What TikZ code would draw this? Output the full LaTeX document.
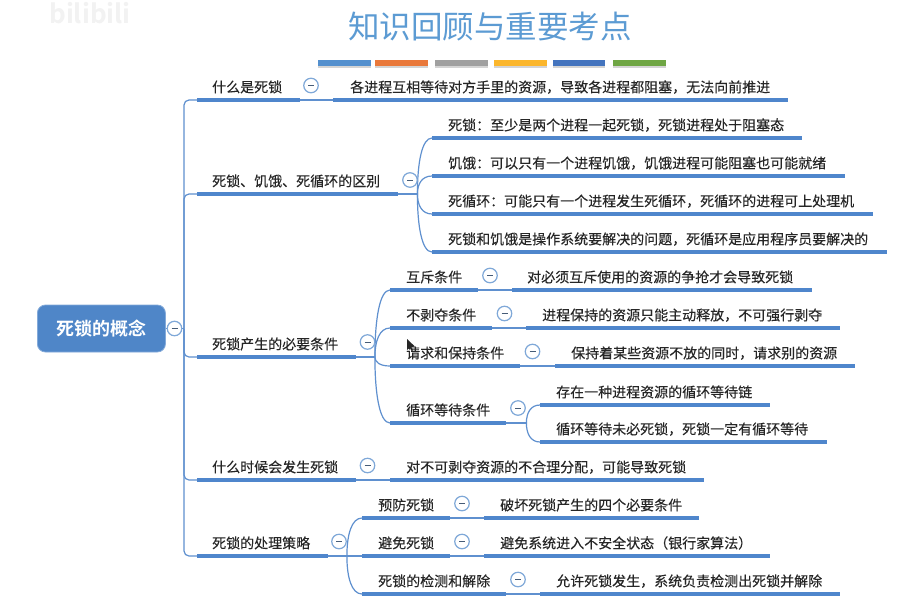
\documentclass[tikz,border=0pt]{standalone}
\usepackage{fontspec}
\usetikzlibrary{calc}
\setmainfont[FakeBold=0.2]{Noto Sans CJK SC}
\newfontfamily\titlefont{Noto Sans CJK SC}
\newfontfamily\rootfont{Noto Sans CJK SC Bold}
\definecolor{linkblue}{HTML}{5F90CF}
\definecolor{heavyblue}{HTML}{4F86CC}
\definecolor{rootblue}{HTML}{4F86C8}
\definecolor{titleblue}{HTML}{5C9BD3}
\definecolor{ringblue}{HTML}{7FA8D8}
\definecolor{inkdark}{HTML}{262626}
\newcommand{\topic}[6][16]{%
  \pgfmathsetmacro\topicw{#4-#3}%
  \pgfmathsetmacro\topict{#4-#3-2*#1}%
  \node[topicbox,anchor=south west,inner xsep=#1pt,text width=\topict pt,minimum width=\topicw pt] (#2) at (#3,#5) {#6};
  \draw[heavy] (#2.south west) -- (#2.south east);
}
\newcommand{\toggle}[3]{\node[togglebox] (#1) at (#2,#3) {};}
\newcommand{\barbit}[4]{%
  \fill[black!30,opacity=.55] (#1,61.5) rectangle (#2,#3+1.5);
  \node[barbox,fill=#4,minimum width=#2 pt-#1 pt,anchor=north west] (bar#4) at (#1,60) {};
}
\newcommand{\fork}[2]{%
  \draw[link] (#1) .. controls ($(#1)!.55!(#1 |- #2.south west)$) and ($(#2.south west)!.7!(#1 |- #2.south west)$) .. (#2.south west);
}
\tikzset{
  x=1pt,y=-1pt,
  topicbox/.style={inner ysep=0pt,text height=13pt,text depth=7.5pt,font=\fontsize{14}{16}\selectfont,text=inkdark,align=left},
  heavy/.style={line width=3.2pt,heavyblue},
  link/.style={line width=1.2pt,linkblue},
  togglebox/.style={circle,draw=ringblue,line width=1.2pt,fill=white,minimum size=14.5pt,inner sep=0pt,
    path picture={\draw[line width=1pt,black!45!ringblue] ([xshift=-3pt]path picture bounding box.center) -- ([xshift=3pt]path picture bounding box.center);}},
  barbox/.style={minimum height=6pt,inner sep=0pt,draw=none},
  rootbox/.style={rounded corners=8pt,fill=rootblue,draw=rootblue!70!white,line width=.8pt,text=white,font=\fontsize{18}{20}\selectfont\rootfont,minimum width=128pt,minimum height=47pt,inner sep=0pt},
}
\begin{document}
\begin{tikzpicture}
\useasboundingbox (0,0) rectangle (909,600);
\fill[white] (0,0) rectangle (909,600);
\node[text=black!5,font=\fontsize{26}{26}\selectfont\rootfont,inner sep=0pt] (wm) at (90,13) {bilibili};
\node[text=titleblue,font=\fontsize{31.5}{34}\selectfont\titlefont,inner sep=0pt] (title) at (490,27) {知识回顾与重要考点};
\definecolor{barA}{HTML}{5490CE}\definecolor{barB}{HTML}{E9783A}\definecolor{barC}{HTML}{A0A0A0}
\definecolor{barD}{HTML}{FBB62C}\definecolor{barE}{HTML}{4474BE}\definecolor{barF}{HTML}{6FA644}
\barbit{318}{371}{66}{barA}
\barbit{375}{428}{66}{barB}
\barbit{435}{488}{66}{barC}
\barbit{494}{547}{66}{barD}
\barbit{553}{605}{66}{barE}
\barbit{613}{666}{66}{barF}

\node[rootbox,anchor=west] (root) at (37,328.5) {死锁的概念};
\coordinate (trunk) at (184,328.5);
\draw[link] (root.east) -- (trunk);

% level 1
\topic[15]{what}{197}{300}{100}{什么是死锁}
\topic[15]{diff}{197}{398}{194}{死锁、饥饿、死循环的区别}
\topic[15]{need}{197}{356}{357}{死锁产生的必要条件}
\topic[15]{when}{197}{356}{480}{什么时候会发生死锁}
\topic[15]{deal}{197}{328}{556}{死锁的处理策略}
\foreach \t in {what,diff,need,when,deal}{
  \draw[link,rounded corners=5pt] (trunk) |- (\t.south west);
}
\node[togglebox] (trootc) at (174.5,328.5) {};

% 什么是死锁
\topic[17]{whatA}{333}{788}{100}{各进程互相等待对方手里的资源，导致各进程都阻塞，无法向前推进}
\draw[link] (what.south east) -- (whatA.south west);
\toggle{twhat}{311}{85.5}

% 区别
\topic{diffA}{432}{802}{138}{死锁：至少是两个进程一起死锁，死锁进程处于阻塞态}
\topic{diffB}{432}{845}{176}{饥饿：可以只有一个进程饥饿，饥饿进程可能阻塞也可能就绪}
\topic{diffC}{432}{873}{214}{死循环：可能只有一个进程发生死循环，死循环的进程可上处理机}
\topic{diffD}{432}{887}{252}{死锁和饥饿是操作系统要解决的问题，死循环是应用程序员要解决的}
\coordinate (jdiff) at ([xshift=19pt]diff.south east);
\draw[link] (diff.south east) -- (jdiff);
\foreach \c in {diffA,diffB,diffC,diffD}{\fork{jdiff}{\c}}
\toggle{tdiff}{410}{180}

% 必要条件
\topic{needA}{390}{478}{290}{互斥条件}
\topic{needB}{390}{492}{328}{不剥夺条件}
\topic{needC}{390}{520}{366}{请求和保持条件}
\topic{needD}{390}{506}{423}{循环等待条件}
\coordinate (jneed) at ([xshift=18.5pt]need.south east);
\draw[link] (need.south east) -- (jneed);
\foreach \c in {needA,needB,needC,needD}{\fork{jneed}{\c}}
\toggle{tneed}{367.5}{342}
\topic[15]{needAx}{512}{812}{290}{对必须互斥使用的资源的争抢才会导致死锁}
\draw[link] (needA.south east) -- (needAx.south west);
\toggle{tneedA}{490}{275.5}
\topic{needBx}{526}{840}{328}{进程保持的资源只能主动释放，不可强行剥夺}
\draw[link] (needB.south east) -- (needBx.south west);
\toggle{tneedB}{504.5}{313.5}
\topic{needCx}{555}{855}{366}{保持着某些资源不放的同时，请求别的资源}
\draw[link] (needC.south east) -- (needCx.south west);
\toggle{tneedC}{532.5}{351.5}
\topic{needDa}{540}{770}{405}{存在一种进程资源的循环等待链}
\topic{needDb}{540}{827}{442}{循环等待未必死锁，死锁一定有循环等待}
\coordinate (jneedD) at ([xshift=20pt]needD.south east);
\draw[link] (needD.south east) -- (jneedD);
\foreach \c in {needDa,needDb}{\fork{jneedD}{\c}}
\toggle{tneedD}{518}{408}

% 什么时候
\topic{whenA}{390}{704}{480}{对不可剥夺资源的不合理分配，可能导致死锁}
\draw[link] (when.south east) -- (whenA.south west);
\toggle{twhen}{367.5}{465.5}

% 处理策略
\topic{dealA}{362}{450}{518}{预防死锁}
\topic{dealB}{362}{450}{556}{避免死锁}
\topic{dealC}{362}{506}{594}{死锁的检测和解除}
\coordinate (jdeal) at ([xshift=18.5pt]deal.south east);
\draw[link] (deal.south east) -- (jdeal);
\foreach \c in {dealA,dealB,dealC}{\fork{jdeal}{\c}}
\toggle{tdeal}{339}{541.5}
\topic{dealAx}{484}{699}{518}{破坏死锁产生的四个必要条件}
\draw[link] (dealA.south east) -- (dealAx.south west);
\toggle{tdealA}{462}{503.5}
\topic{dealBx}{484}{770}{556}{避免系统进入不安全状态（银行家算法）}
\draw[link] (dealB.south east) -- (dealBx.south west);
\toggle{tdealB}{462}{541.5}
\topic{dealCx}{540}{840}{594}{允许死锁发生，系统负责检测出死锁并解除}
\draw[link] (dealC.south east) -- (dealCx.south west);
\toggle{tdealC}{518}{579.5}

% mouse pointer
\fill[black!85] (407,339) -- (407,350) -- (409.8,347.6) -- (411.5,351) -- (413,350.3) -- (411.4,347) -- (415,346.6) -- cycle;
\end{tikzpicture}
\end{document}
